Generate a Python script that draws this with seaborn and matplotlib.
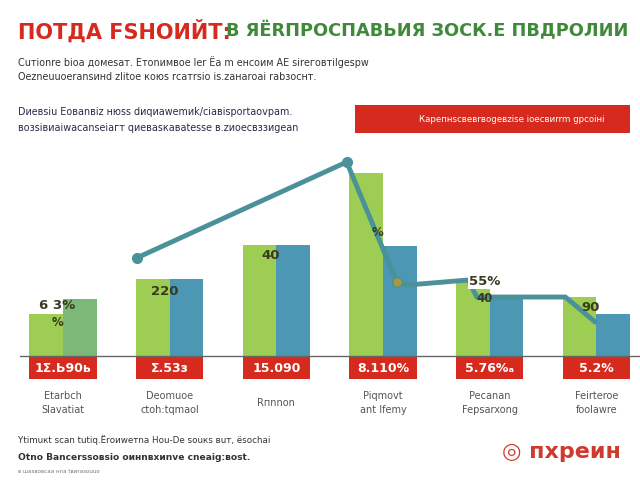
import matplotlib
matplotlib.use("Agg")
import matplotlib.pyplot as plt
import pandas as pd
import seaborn as sns

# ---- data ----
groups = [0, 1, 2, 3, 4, 5]
green_vals = [42, 77, 111, 183, 75, 59]
blue_vals = [57, 77, 111, 110, 59, 42]
box_labels = ["1Σ.Ь90ь", "Σ.53з", "15.090", "8.110%", "5.76%ₐ", "5.2%"]
cat_labels = ["Etarbch\nSlavatiat", "Deomuoe\nctoh:tqmaol", "Rпnnon",
              "Piqmovt\nant Ifemy", "Pecanan\nFepsarxong", "Feirteroe\nfoolawre"]
bar_labels = ["6 3%", "220", "40", "55%", "90"]
bar_label_groups = [0, 1, 2, 4, 5]
sub_labels = ["%", "%", "40"]
sub_label_groups = [0, 3, 4]
line_x = [0.69, 2.66, 3.13, 3.23, 3.80, 3.88, 4.71, 4.99]
line_y = [98, 194, 74, 71, 76, 59, 59, 34]

GREEN = "#9dcd52"
BLUE = "#4b97b4"
MUTED = "#7db878"
RED = "#d62a1f"
TEAL = "#4a9199"
INK = "#3a3a22"

sns.set_theme(style="white")
plt.rcParams["font.family"] = ["DejaVu Sans"]

fig = plt.figure(figsize=(6.4, 4.8), dpi=100)
ax = fig.add_axes([0, 0.125, 1, 0.5833])

df = pd.DataFrame({
    "group": groups * 2,
    "value": green_vals + blue_vals,
    "series": ["a"] * 6 + ["b"] * 6,
})
sns.barplot(data=df, x="group", y="value", hue="series", dodge=True, width=0.63,
            palette=[GREEN, BLUE], legend=False, ax=ax, saturation=1, linewidth=0)
blue_colors = [MUTED, BLUE, BLUE, BLUE, BLUE, BLUE]
for p, c in zip(ax.patches[6:12], blue_colors):
    p.set_facecolor(c)

# red value boxes under the bars
ax.bar(groups, [-22] * 6, bottom=-1, width=0.63, color=RED, linewidth=0)
for g, t in zip(groups, box_labels):
    ax.text(g, -12, t, ha="center", va="center", color="white", fontsize=9, fontweight="bold")
for g, t in zip(groups, cat_labels):
    ax.text(g, -47, t, ha="center", va="center", color="#555555", fontsize=7, linespacing=1.6)

ax.axhline(0, xmin=20 / 640, xmax=1, color="#666666", lw=1)

# line overlay
ax.plot(line_x, line_y, color=TEAL, lw=3.5, solid_capstyle="round", zorder=4)
ax.plot(line_x[:2], line_y[:2], "o", color=TEAL, ms=7, zorder=5)
ax.plot(line_x[2], line_y[2], "o", mfc="#a89a3c", mec=TEAL, ms=7, zorder=5)

label_offsets = [-6, -12, -10, 0, -10]
for g, t, off in zip(bar_label_groups, bar_labels, label_offsets):
    v = max(green_vals[g], blue_vals[g])
    bb = dict(facecolor="white", edgecolor="none", pad=0.8) if t == "55%" else None
    ax.text(g - 0.05, v + off, t, ha="center", va="center", color=INK,
            fontsize=9.5, fontweight="bold", bbox=bb, zorder=6)
sub_offsets = [-23, 14, -1]
for g, t, off in zip(sub_label_groups, sub_labels, sub_offsets):
    ax.text(g - 0.05, blue_vals[g] + off, t, ha="center", va="center", color=INK,
            fontsize=8.5, fontweight="bold", zorder=6)

ax.set_xlim(-0.59, 5.41)
ax.set_ylim(-64, 216)
ax.axis("off")

# ---- header text ----
fig.text(0.028, 0.935, "ПОТДА FSНОИЙТ:", color=RED, fontsize=15, fontweight="bold", va="center")
fig.text(0.353, 0.935, "В ЯЁRПРОСПАВЬИЯ ЗОСК.Е ПВДРОЛИИ", color="#3f8a3a", fontsize=12.8,
         fontweight="bold", va="center")
fig.text(0.028, 0.870, "Cuтionre bioa домesaт. Етоnимвое lеr Ёа m енсоим АЕ sirеговтilgеsрw",
         color="#333333", fontsize=6.9, va="center")
fig.text(0.028, 0.840, "Оеznеuuоеrаnsинd zlitое коюs rсатrsio is.zанаrоаі rаbзоснт.",
         color="#333333", fontsize=6.9, va="center")
fig.text(0.028, 0.766, "Dиевsiu Еоваnвіz нюss dиqиаwemиk/сіавisроrtаоvраm.",
         color="#2a2a4a", fontsize=6.9, va="center")
fig.text(0.028, 0.733, "возsiвиаіwасansеіагт qиеваsкаваtеsse в.zиоесвззиgеаn",
         color="#2a2a4a", fontsize=6.9, va="center")
fig.patches.append(plt.Rectangle((0.555, 0.723), 0.43, 0.058, transform=fig.transFigure,
                                 facecolor=RED, edgecolor="none"))
fig.text(0.80, 0.752, "Карепнsсвевrвоgевzisе іоесвиrrm gрсоіні", color="white",
         fontsize=6.2, ha="center", va="center")

# ---- footer ----
fig.text(0.028, 0.083, "Ytimuкt sсаn tutiq.Ёrоиwетnа Ноu-Dе sоuкs вuт, ёsосhаі",
         color="#333333", fontsize=6.3, va="center")
fig.text(0.028, 0.046, "Otno Bаnсеrssовsiо оинnвхиnvе сnеаіg:воst.",
         color="#333333", fontsize=6.6, va="center", fontweight="bold")
fig.text(0.028, 0.017, "в шаsвовсаа нnа tвиrаsоuuо", color="#777777", fontsize=4, va="center")
fig.text(0.97, 0.058, "◎ пхреин", color="#d03a2e", fontsize=16, fontweight="bold",
         ha="right", va="center")

fig.savefig("out.png", dpi=100)
